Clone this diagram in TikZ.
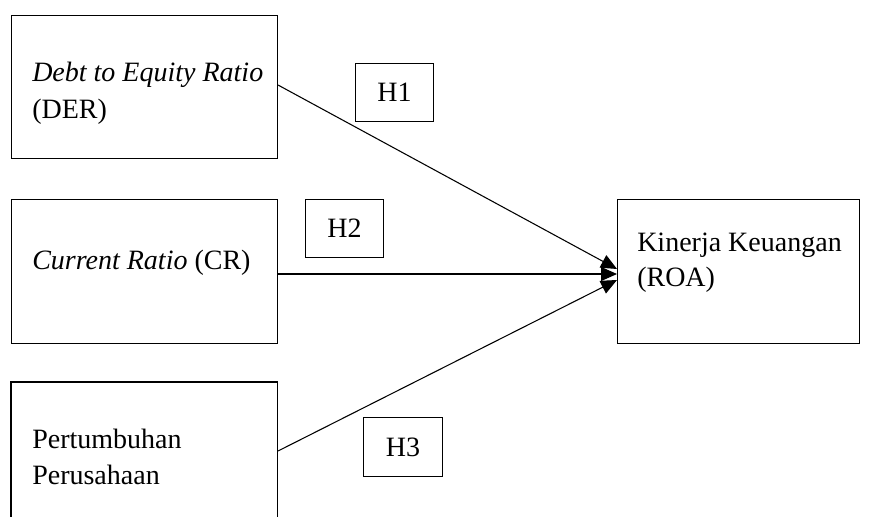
\documentclass[tikz,border=0pt]{standalone}
\usepackage{fontspec}
\setmainfont{Liberation Serif}
\usetikzlibrary{arrows.meta}
\begin{document}
\begin{tikzpicture}[x=0.75pt,y=-0.75pt,
  box/.style={draw,line width=0.9pt,inner sep=0pt,anchor=north west},
  hbox/.style={draw,line width=0.8pt,inner sep=0pt,anchor=north west},
  txt/.style={anchor=base west,inner sep=0pt,font=\fontsize{21}{27}\selectfont},
  htxt/.style={anchor=center,inner sep=0pt,font=\fontsize{21}{27}\selectfont},
  conn/.style={line width=0.8pt,-{Triangle[length=12pt,width=10.5pt]}}]
\useasboundingbox (0,0) rectangle (871,517);
% boxes
\node[box,minimum width=266*0.75pt,minimum height=143*0.75pt] (der) at (11,15) {};
\node[box,minimum width=266*0.75pt,minimum height=144*0.75pt] (cr) at (11,199) {};
\node[inner sep=0pt,anchor=north west,minimum width=266*0.75pt,minimum height=140*0.75pt] (pp) at (11,382) {};
\draw[line width=0.9pt] (pp.south west) -- (pp.north west) -- (pp.north east) -- (pp.south east);
\node[box,minimum width=242*0.75pt,minimum height=144*0.75pt] (roa) at (617,199) {};
% texts
\node[txt] (t1) at (32,82) {\textit{Debt to Equity Ratio}};
\node[txt] (t2) at (32,118) {(DER)};
\node[txt] (t3) at (32,269) {\textit{Current Ratio} (CR)};
\node[txt] (t4) at (32,448) {Pertumbuhan};
\node[txt] (t5) at (32,484) {Perusahaan};
\node[txt] (t6) at (637,251) {Kinerja Keuangan};
\node[txt] (t7) at (637,286) {(ROA)};
% hypothesis boxes
\node[hbox,minimum width=78*0.75pt,minimum height=58*0.75pt] (h1) at (355,63) {};
\node[htxt] at (h1.center) {H1};
\node[hbox,minimum width=78*0.75pt,minimum height=58*0.75pt] (h2) at (305,199) {};
\node[htxt] at (h2.center) {H2};
\node[hbox,minimum width=79*0.75pt,minimum height=59*0.75pt] (h3) at (363,417) {};
\node[htxt] at (h3.center) {H3};
% connectors
\coordinate (s1) at (278,85);
\coordinate (s2) at (278,274);
\coordinate (s3) at (278,451);
\coordinate (e1) at (617,269);
\coordinate (e2) at (617,274);
\coordinate (e3) at (617,280);
\draw[conn] (s1) -- (e1);
\draw[conn] (s2) -- (e2);
\draw[conn] (s3) -- (e3);
\end{tikzpicture}
\end{document}
